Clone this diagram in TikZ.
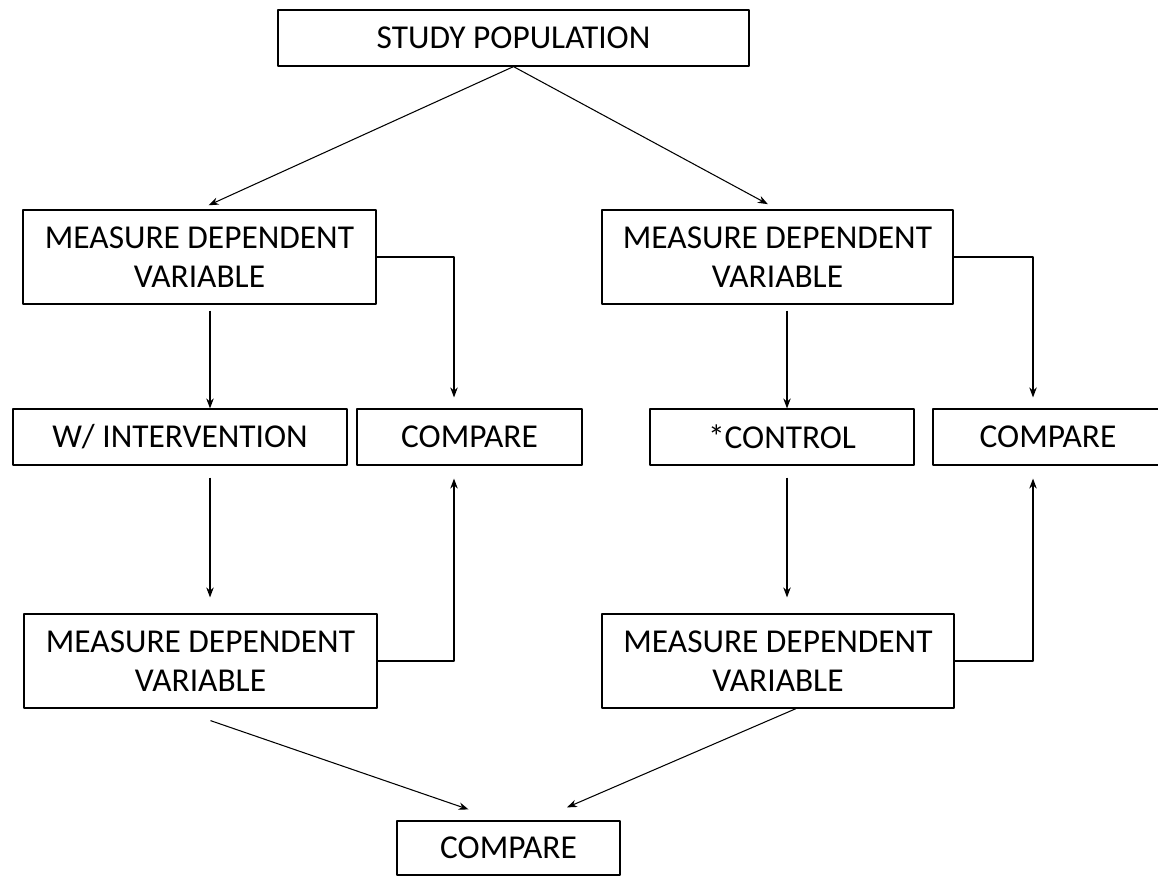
\documentclass[tikz,border=0pt]{standalone}
\usepackage{fontspec}
\setmainfont{Carlito}
\usetikzlibrary{arrows.meta}
\begin{document}
\begin{tikzpicture}[x=0.02cm, y=-0.02cm, line join=round, >={Stealth[length=2mm,width=1.5mm]}, font=\fontsize{19}{22}\selectfont]
	\tikzset{box style/.style={draw, line width=0.7pt, inner sep=0pt, align=center, minimum height=1.12cm},
		link style/.style={->, line width=0.6pt}}
	\useasboundingbox (0,0) rectangle (1158,876);
	\path (210,0) coordinate (colL)
	(454,0) coordinate (colM)
	(787,0) coordinate (colR)
	(1033,0) coordinate (colN)
	;
	\node[box style, minimum width=9.42cm] (pop) at (513.5,38) {STUDY POPULATION};
	\node[box style, minimum width=7.06cm, minimum height=1.88cm] (mdvL) at (199.5,257) {MEASURE DEPENDENT\\VARIABLE};
	\node[box style, minimum width=7.02cm, minimum height=1.88cm] (mdvR) at (777.5,257) {MEASURE DEPENDENT\\VARIABLE};
	\node[box style, minimum width=6.68cm] (interv) at (180,437) {W/ INTERVENTION};
	\node[box style, minimum width=4.5cm] (cmpL) at (469.5,437) {COMPARE};
	\node[box style, minimum width=5.28cm] (ctrl) at (782,437) {*CONTROL};
	\node[box style, minimum width=4.6cm] (cmpR) at (1048,437) {COMPARE};
	\node[box style, minimum width=7.06cm, minimum height=1.88cm] (mdvLb) at (200.5,661) {MEASURE DEPENDENT\\VARIABLE};
	\node[box style, minimum width=7.04cm, minimum height=1.88cm] (mdvRb) at (778,661) {MEASURE DEPENDENT\\VARIABLE};
	\node[box style, minimum width=4.46cm, minimum height=1.08cm] (cmpB) at (508.5,848) {COMPARE};
	% split of the population
	\draw[link style, shorten >=0.2cm] (pop.south) -- (mdvL.north);
	\draw[link style, shorten >=0.22cm] (pop.south) -- (mdvR.north);
	% left branch
	\draw[link style, shorten <=0.12cm] (mdvL.south -| colL) -- (interv.north -| colL);
	\draw[link style, shorten <=0.24cm, shorten >=0.32cm] (interv.south -| colL) -- (mdvLb.north -| colL);
	\draw[link style, shorten >=0.22cm] (mdvL.east) -| (cmpL.north -| colM);
	\draw[link style, shorten >=0.26cm] (mdvLb.east) -| (cmpL.south -| colM);
	% right branch
	\draw[link style, shorten <=0.12cm] (mdvR.south -| colR) -- (ctrl.north -| colR);
	\draw[link style, shorten <=0.24cm, shorten >=0.32cm] (ctrl.south -| colR) -- (mdvRb.north -| colR);
	\draw[link style, shorten >=0.22cm] (mdvR.east) -| (cmpR.north -| colN);
	\draw[link style, shorten >=0.26cm] (mdvRb.east) -| (cmpR.south -| colN);
	% final comparison
	\draw[link style] ([shift={(0.2cm,-0.24cm)}]mdvLb.south) -- ([shift={(-0.8cm,0.22cm)}]cmpB.north);
	\draw[link style] ([shift={(0.36cm,0cm)}]mdvRb.south) -- ([shift={(1.17cm,0.26cm)}]cmpB.north);
\end{tikzpicture}
\end{document}
